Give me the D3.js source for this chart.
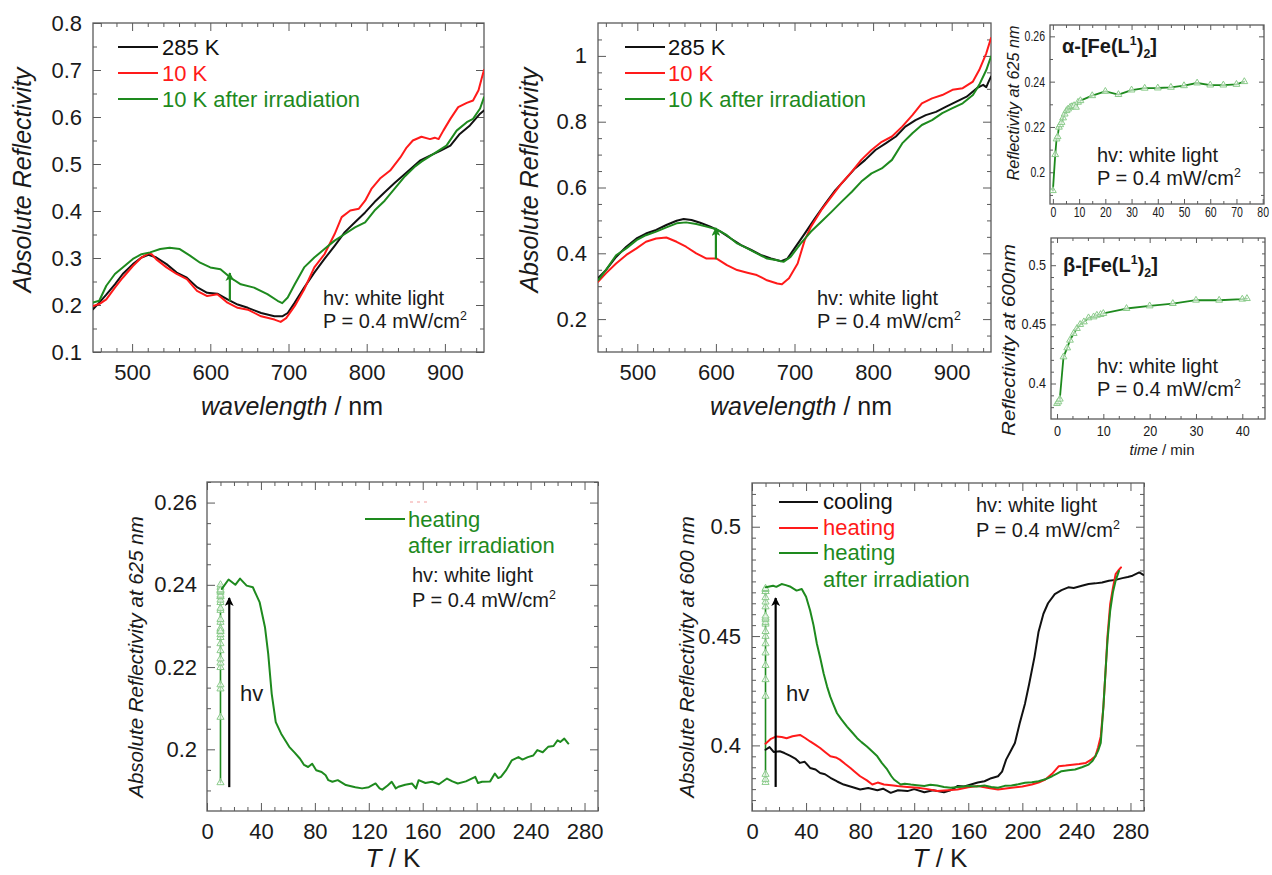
<!DOCTYPE html>
<html><head><meta charset="utf-8">
<script src="https://cdn.jsdelivr.net/npm/d3@7"></script>
<style>
body{margin:0;background:#fff;}
svg text{font-family:"Liberation Sans",Arial,sans-serif;}
</style></head><body>
<script>
// ---------------- DATA ----------------
// Panel A: alpha spectra (wavelength nm, absolute reflectivity)
const a285 = [[450,0.191],[458,0.205],[467,0.222],[478,0.244],[488,0.266],[501,0.287],[512,0.301],[521,0.307],[531,0.301],[544,0.287],[557,0.269],[570,0.258],[583,0.238],[596,0.226],[609,0.224],[622,0.212],[635,0.201],[648,0.194],[665,0.183],[682,0.176],[692,0.176],[699,0.183],[708,0.205],[720,0.237],[733,0.269],[746,0.298],[759,0.326],[772,0.355],[785,0.376],[798,0.397],[810,0.419],[823,0.44],[836,0.46],[851,0.482],[868,0.507],[881,0.518],[894,0.528],[907,0.539],[919,0.564],[932,0.582],[945,0.607],[950,0.614]];
const a10 = [[450,0.198],[458,0.202],[467,0.212],[478,0.237],[488,0.258],[501,0.283],[512,0.301],[521,0.31],[525,0.308],[531,0.297],[544,0.28],[557,0.266],[570,0.255],[583,0.23],[596,0.219],[609,0.223],[622,0.205],[635,0.194],[648,0.19],[665,0.176],[682,0.169],[690,0.164],[697,0.172],[708,0.198],[720,0.233],[733,0.28],[746,0.308],[759,0.351],[768,0.387],[779,0.401],[790,0.405],[798,0.422],[806,0.447],[817,0.469],[830,0.486],[843,0.514],[851,0.535],[859,0.55],[870,0.558],[881,0.553],[887,0.556],[892,0.553],[898,0.571],[907,0.596],[917,0.621],[928,0.63],[936,0.635],[943,0.657],[947,0.682],[950,0.70]];
const a10irr = [[450,0.205],[458,0.209],[467,0.241],[478,0.266],[488,0.28],[501,0.298],[512,0.308],[523,0.312],[536,0.319],[548,0.322],[561,0.319],[574,0.305],[587,0.29],[600,0.28],[613,0.276],[626,0.258],[639,0.244],[656,0.237],[673,0.223],[686,0.209],[692,0.204],[699,0.216],[708,0.244],[720,0.28],[733,0.301],[746,0.319],[759,0.337],[772,0.351],[785,0.365],[798,0.376],[810,0.401],[823,0.422],[836,0.448],[849,0.474],[862,0.495],[870,0.505],[885,0.521],[902,0.539],[915,0.571],[928,0.589],[936,0.596],[945,0.618],[950,0.642]];

// Panel B: beta spectra
const b285 = [[450,0.324],[460,0.349],[473,0.389],[486,0.42],[499,0.445],[511,0.46],[524,0.471],[537,0.486],[550,0.499],[559,0.504],[569,0.501],[580,0.493],[593,0.481],[606,0.466],[619,0.445],[632,0.425],[645,0.41],[657,0.395],[670,0.384],[683,0.376],[691,0.384],[700,0.415],[713,0.46],[726,0.506],[739,0.55],[752,0.592],[764,0.623],[777,0.658],[790,0.684],[803,0.714],[816,0.734],[829,0.755],[841,0.785],[854,0.805],[867,0.82],[880,0.83],[893,0.846],[906,0.861],[919,0.876],[932,0.902],[940,0.912],[944,0.905],[947,0.922],[950,0.937]];
const b10 = [[450,0.313],[460,0.339],[473,0.369],[486,0.395],[499,0.415],[511,0.435],[524,0.445],[537,0.448],[550,0.435],[562,0.42],[575,0.4],[588,0.384],[601,0.384],[614,0.364],[627,0.349],[640,0.341],[652,0.334],[665,0.318],[678,0.308],[684,0.306],[693,0.324],[704,0.369],[713,0.44],[721,0.481],[734,0.531],[747,0.572],[760,0.613],[773,0.648],[785,0.684],[798,0.714],[811,0.739],[824,0.755],[837,0.785],[850,0.82],[862,0.856],[875,0.871],[888,0.881],[901,0.897],[914,0.902],[927,0.922],[935,0.957],[944,1.008],[950,1.054]];
const b10irr = [[450,0.318],[460,0.349],[473,0.394],[486,0.415],[499,0.44],[511,0.455],[524,0.466],[537,0.479],[550,0.491],[562,0.494],[575,0.489],[588,0.481],[601,0.473],[614,0.455],[627,0.43],[640,0.415],[652,0.4],[665,0.384],[678,0.379],[686,0.374],[695,0.389],[708,0.43],[721,0.466],[734,0.496],[747,0.526],[760,0.557],[773,0.587],[785,0.618],[798,0.643],[811,0.658],[824,0.684],[837,0.734],[850,0.765],[862,0.79],[875,0.805],[888,0.826],[901,0.841],[914,0.856],[927,0.881],[935,0.912],[944,0.957],[950,0.998]];

// Panel C: alpha, reflectivity at 625 nm vs irradiation time (min)
const alphaTime = [0,0.9,1.4,1.8,2.3,2.8,3.3,3.9,4.5,5.2,5.8,6.6,7.3,8.1,8.8,9.6,10.5,15,20,25,30,35,40,45,50,55,60,65,70,73];
const alphaRefl = [0.1919,0.2078,0.2147,0.2157,0.2199,0.221,0.222,0.224,0.2257,0.2272,0.2279,0.2287,0.229,0.2294,0.2287,0.2309,0.2316,0.2338,0.2357,0.2343,0.2363,0.2371,0.2372,0.2375,0.2382,0.2394,0.2385,0.2385,0.2388,0.2400];

// Panel D: beta, reflectivity at 600 nm vs irradiation time (min)
const betaTime = [0,0.3,0.6,1.4,2.2,2.8,3.6,4.3,5,5.8,6.8,7.9,8.6,9.4,10,15,20,25,30,35,40,41];
const betaRefl = [0.3831,0.3845,0.3868,0.4225,0.4301,0.4366,0.4423,0.4465,0.4499,0.4521,0.4555,0.4563,0.4577,0.4583,0.4592,0.4634,0.4656,0.4676,0.4704,0.4704,0.4713,0.4718];

// Irradiation temperature (K) for the photo-excitation points
const irrT = 10;

// Panel E: alpha, heating after irradiation (T K, reflectivity at 625 nm)
const eHeatIrr = [[11,0.239],[16,0.2413],[21,0.240],[24.5,0.2415],[29.4,0.2398],[34,0.2394],[39,0.2358],[43,0.2297],[45.4,0.2232],[48,0.2135],[51,0.2066],[55,0.2038],[61,0.2006],[65,0.1992],[69,0.1977],[72,0.1962],[75,0.1957],[78,0.1965],[81,0.1949],[85,0.1945],[88,0.1937],[90,0.1925],[93,0.1921],[97,0.1925],[103,0.1913],[110,0.1908],[115,0.1905],[120,0.1908],[125,0.1917],[128,0.1905],[130,0.1902],[134,0.1912],[137,0.1921],[140,0.1905],[142,0.1909],[147,0.1914],[152,0.1917],[155,0.1905],[157,0.1925],[162,0.1918],[167,0.1921],[172,0.1915],[178,0.1929],[182,0.1922],[186,0.1917],[192,0.1922],[199,0.1933],[201,0.1918],[204,0.1921],[210,0.1922],[213.5,0.1941],[216,0.193],[218,0.1933],[222,0.195],[226,0.1973],[231,0.1981],[234,0.1975],[238,0.1981],[242,0.1985],[245,0.1998],[249,0.1993],[253,0.2006],[257,0.2008],[260,0.2022],[262,0.2018],[265,0.2026],[268,0.2014]];

// Panel F: beta, reflectivity at 600 nm vs T
const fCool = [[10,0.398],[13,0.3992],[16,0.397],[20.6,0.3973],[24,0.3965],[28,0.3953],[32,0.394],[35.5,0.392],[39,0.3925],[43,0.3897],[47,0.389],[50.4,0.3874],[54,0.3868],[58,0.3852],[63,0.3835],[67.8,0.3821],[74,0.381],[80,0.3798],[86,0.3805],[92.7,0.3795],[97,0.3802],[102.6,0.3783],[108,0.3795],[115,0.3791],[120,0.38],[127.5,0.3786],[134,0.3795],[142,0.3786],[147,0.3795],[152,0.3814],[157,0.3812],[162,0.3821],[167,0.383],[172,0.3836],[177,0.385],[182,0.3859],[185,0.388],[188,0.3935],[191,0.397],[194.5,0.4011],[198,0.41],[202,0.4192],[205,0.428],[209,0.4405],[212,0.452],[215.6,0.4602],[219,0.465],[224,0.4692],[229,0.471],[234,0.4723],[238,0.472],[244,0.473],[249,0.4738],[254,0.4741],[259,0.4745],[264,0.4753],[269,0.4757],[274,0.4765],[278,0.477],[281.5,0.4776],[286.5,0.4791],[289.5,0.478]];
const fHeat = [[10,0.4008],[14,0.403],[18,0.4041],[22,0.4038],[25.6,0.4033],[30,0.4042],[35.5,0.4048],[39,0.4035],[43,0.4018],[47,0.4002],[50.4,0.3988],[54,0.397],[58,0.395],[62,0.3945],[65,0.3935],[69,0.3915],[72.8,0.3897],[76,0.388],[80,0.3859],[85,0.384],[89,0.3821],[93,0.383],[97.6,0.3821],[103,0.3818],[107.6,0.3814],[115,0.381],[122.5,0.3806],[130,0.38],[137,0.3791],[145,0.3795],[152,0.3798],[160,0.3808],[167,0.3814],[175,0.3805],[182,0.3798],[192,0.3806],[200,0.3812],[207,0.3821],[212,0.383],[217,0.3844],[222,0.387],[227,0.3905],[232,0.3908],[237,0.3912],[242,0.3915],[247,0.392],[251,0.3935],[254,0.395],[256,0.399],[258,0.4041],[260,0.418],[261.6,0.4344],[263,0.45],[265,0.4647],[267,0.472],[269,0.4783],[271,0.48],[273,0.4814]];
const fHeatIrr = [[10.2,0.4723],[15.6,0.473],[18,0.4725],[21.9,0.4738],[25,0.4733],[28,0.4727],[33,0.4708],[36.8,0.4715],[40,0.468],[43,0.4617],[45.5,0.455],[48,0.4465],[50.5,0.44],[53,0.4329],[55.5,0.427],[57.9,0.4223],[60,0.419],[62.9,0.4147],[66,0.412],[70.3,0.4086],[74,0.406],[77.8,0.4033],[81,0.4015],[85,0.3995],[89,0.3972],[92.7,0.395],[96,0.392],[100,0.389],[103,0.386],[105,0.3844],[110,0.3821],[113,0.3825],[117.5,0.3821],[122,0.3818],[127.5,0.3814],[132,0.382],[137,0.3817],[142,0.381],[147,0.3806],[153,0.381],[160,0.3814],[166,0.3812],[172,0.3817],[177,0.381],[182,0.3806],[187,0.3815],[192,0.3817],[197,0.3822],[202,0.3829],[207,0.3832],[212,0.3836],[217,0.3845],[222,0.3859],[226,0.3872],[229,0.3882],[234,0.3886],[239,0.389],[244,0.39],[249,0.3912],[252,0.393],[254,0.395],[256,0.3975],[258,0.4011],[260,0.418],[261.6,0.4344],[263,0.448],[265,0.4617],[267,0.47],[269,0.4753],[271.5,0.4798]];

// Tick labels
const specXTicks = [500,600,700,800,900];
const aYTicks = [0.1,0.2,0.3,0.4,0.5,0.6,0.7,0.8];
const bYTicks = [0.2,0.4,0.6,0.8,1];
const cXTicks = [0,10,20,30,40,50,60,70,80];
const cYTicks = [0.2,0.22,0.24,0.26];
const dXTicks = [0,10,20,30,40];
const dYTicks = [0.4,0.45,0.5];
const tXTicks = [0,40,80,120,160,200,240,280];
const eYTicks = [0.2,0.22,0.24,0.26];
const fYTicks = [0.4,0.45,0.5];

// ---------------- DRAWING ----------------
const W = 1272, H = 875;
const COL = {k:'#111111', r:'#ff1a1a', g:'#1e8a1e', mk:'#8acb8a', frame:'#5a5a5a', txt:'#1a1a1a'};
const svg = d3.select('body').append('svg').attr('width', W).attr('height', H);
svg.append('rect').attr('width', W).attr('height', H).attr('fill', '#fff');
const defs = svg.append('defs');
defs.append('filter').attr('id','blur').attr('x','-50%').attr('y','-10%').attr('width','200%').attr('height','120%')
  .append('feGaussianBlur').attr('stdDeviation', 1.3);
function mkMarker(id, color){
  defs.append('marker').attr('id', id).attr('viewBox','0 0 10 10').attr('refX',9).attr('refY',5)
    .attr('markerWidth',4).attr('markerHeight',4).attr('orient','auto')
    .append('path').attr('d','M0,0L10,5L0,10L2.5,5z').attr('fill', color);
}
mkMarker('ahG', COL.g); mkMarker('ahK', '#000');

const fmt = d => String(+d.toFixed(3));
function minors(a, b, step, majors){
  return d3.range(a, b + step/2, step).map(v => +v.toFixed(5))
    .filter(v => !majors.some(m => Math.abs(m - v) < 1e-6));
}
function squeeze(sel, k){
  sel.each(function(){
    const L = this.getComputedTextLength();
    if (L > 0) d3.select(this).attr('textLength', L * k).attr('lengthAdjust', 'spacingAndGlyphs');
  });
}
let clipN = 0;
function panel(o){
  const w = o.x1 - o.x0, h = o.y1 - o.y0;
  const g = svg.append('g').attr('transform', `translate(${o.x0},${o.y0})`);
  const x = d3.scaleLinear().domain(o.xd).range([0, w]);
  const y = d3.scaleLinear().domain(o.yd).range([h, 0]);
  const id = 'clip' + (clipN++);
  defs.append('clipPath').attr('id', id).append('rect').attr('width', w).attr('height', h);
  const sty = sel => {
    sel.select('.domain').remove();
    sel.selectAll('line').attr('stroke', COL.frame).attr('stroke-width', 1);
    const t = sel.selectAll('text').attr('fill', COL.txt).style('font-size', o.fs + 'px');
    if (o.sq) squeeze(t, o.sq);
  };
  const bot = g.append('g').attr('transform', `translate(0,${h})`);
  bot.append('g').call(d3.axisBottom(x).tickValues(o.xMaj).tickSize(-o.ml).tickPadding(o.xp).tickFormat(fmt)).call(sty);
  bot.append('g').call(d3.axisBottom(x).tickValues(o.xMin).tickSize(-o.nl).tickFormat('')).call(sty);
  g.append('g').call(d3.axisTop(x).tickValues(o.xMaj).tickSize(-o.ml).tickFormat('')).call(sty);
  g.append('g').call(d3.axisTop(x).tickValues(o.xMin).tickSize(-o.nl).tickFormat('')).call(sty);
  g.append('g').call(d3.axisLeft(y).tickValues(o.yMaj).tickSize(-o.ml).tickPadding(o.yp).tickFormat(fmt)).call(sty);
  g.append('g').call(d3.axisLeft(y).tickValues(o.yMin).tickSize(-o.nl).tickFormat('')).call(sty);
  const rt = g.append('g').attr('transform', `translate(${w},0)`);
  rt.append('g').call(d3.axisRight(y).tickValues(o.yMaj).tickSize(-o.ml).tickFormat('')).call(sty);
  rt.append('g').call(d3.axisRight(y).tickValues(o.yMin).tickSize(-o.nl).tickFormat('')).call(sty);
  g.append('rect').attr('width', w).attr('height', h).attr('fill', 'none')
    .attr('stroke', COL.frame).attr('stroke-width', 1.3);
  const plot = g.append('g').attr('clip-path', `url(#${id})`);
  return {g, plot, x, y, w, h};
}
function curve(p, data, color, width){
  p.plot.append('path').datum(data)
    .attr('d', d3.line().x(d => p.x(d[0])).y(d => p.y(d[1])))
    .attr('fill', 'none').attr('stroke', color).attr('stroke-width', width || 2)
    .attr('stroke-linejoin', 'round').attr('stroke-linecap', 'round');
}
function markers(p, data, size){
  p.plot.append('g').selectAll('path').data(data).join('path')
    .attr('transform', d => `translate(${p.x(d[0])},${p.y(d[1])})`)
    .attr('d', d3.symbol(d3.symbolTriangle, size || 22))
    .attr('fill', 'rgba(255,255,255,0.6)').attr('stroke', COL.mk).attr('stroke-width', 1);
}
function arrow(p, xv, ya, yb, color, mid, width){
  const X = p.x(xv), Y0 = p.y(ya), Y1 = p.y(yb);
  p.g.append('line').attr('x1', X + 3).attr('x2', X + 3).attr('y1', Y0 + 2).attr('y2', Y1 + 4)
    .attr('stroke', '#888').attr('stroke-opacity', 0.55).attr('stroke-width', width + 1.5).attr('filter', 'url(#blur)');
  p.g.append('line').attr('x1', X).attr('x2', X).attr('y1', Y0).attr('y2', Y1)
    .attr('stroke', color).attr('stroke-width', width).attr('marker-end', `url(#${mid})`);
}
function rich(x, y, parts, o){
  o = o || {};
  const fs = o.fs || 20;
  const t = svg.append('text').attr('x', x).attr('y', y).style('font-size', fs + 'px')
    .attr('fill', o.fill || COL.txt).attr('text-anchor', o.anchor || 'start');
  if (o.rot) t.attr('transform', `rotate(-90,${x},${y})`);
  if (o.bold) t.style('font-weight', 'bold');
  if (o.len) t.attr('textLength', o.len).attr('lengthAdjust', 'spacingAndGlyphs');
  let pend = 0;
  parts.forEach(p => {
    if (typeof p === 'string') p = {t: p};
    const s = t.append('tspan').text(p.t);
    let dy = pend; pend = 0;
    if (p.i) s.style('font-style', 'italic');
    if (p.sup) { s.style('font-size', (fs * 0.62) + 'px'); dy += -fs * 0.42; pend = fs * 0.42; }
    if (p.sub) { s.style('font-size', (fs * 0.62) + 'px'); dy += fs * 0.25; pend = -fs * 0.25; }
    if (dy) s.attr('dy', dy);
  });
  return t;
}
const powerParts = ['P = 0.4 mW/cm', {t:'2', sup:1}];

// ---- Panel A ----
const A = panel({x0:93, y0:23, x1:484, y1:352, xd:[450,950], yd:[0.1,0.8],
  xMaj:specXTicks, xMin:minors(460,940,20,specXTicks), yMaj:aYTicks, yMin:minors(0.15,0.75,0.1,aYTicks),
  fs:22, ml:8, nl:4, xp:12, yp:11});
curve(A, a285, COL.k); curve(A, a10, COL.r); curve(A, a10irr, COL.g);
arrow(A, 625, 0.208, 0.268, COL.g, 'ahG', 2.2);
[[COL.k,'285 K'],[COL.r,'10 K'],[COL.g,'10 K after irradiation']].forEach((d,i) => {
  svg.append('line').attr('x1',118).attr('x2',158).attr('y1',47+26*i).attr('y2',47+26*i).attr('stroke',d[0]).attr('stroke-width',2);
  rich(162, 55+26*i, [d[1]], {fs:22, fill:d[0]});
});
rich(323, 305, ['hv: white light'], {fs:20});
rich(323, 328, powerParts, {fs:20});
rich(31, 180, [{t:'Absolute Reflectivity', i:1}], {fs:25, anchor:'middle', rot:1});
rich(292, 415, [{t:'wavelength', i:1}, ' / nm'], {fs:25, anchor:'middle'});

// ---- Panel B ----
const B = panel({x0:598, y0:23, x1:991, y1:352, xd:[450,950], yd:[0.1,1.1],
  xMaj:specXTicks, xMin:minors(460,940,20,specXTicks), yMaj:bYTicks, yMin:minors(0.15,1.05,0.05,bYTicks),
  fs:22, ml:8, nl:4, xp:12, yp:11});
curve(B, b285, COL.k); curve(B, b10, COL.r); curve(B, b10irr, COL.g);
arrow(B, 600, 0.382, 0.477, COL.g, 'ahG', 2.2);
[[COL.k,'285 K'],[COL.r,'10 K'],[COL.g,'10 K after irradiation']].forEach((d,i) => {
  svg.append('line').attr('x1',625).attr('x2',665).attr('y1',47+26*i).attr('y2',47+26*i).attr('stroke',d[0]).attr('stroke-width',2);
  rich(668, 55+26*i, [d[1]], {fs:22, fill:d[0]});
});
rich(817, 305, ['hv: white light'], {fs:20});
rich(817, 328, powerParts, {fs:20});
rich(538, 180, [{t:'Absolute Reflectivity', i:1}], {fs:25, anchor:'middle', rot:1});
rich(801, 415, [{t:'wavelength', i:1}, ' / nm'], {fs:25, anchor:'middle'});

// ---- Panel C ----
const alphaPts = alphaTime.map((t,i) => [t, alphaRefl[i]]);
const Cp = panel({x0:1050, y0:25, x1:1264, y1:204, xd:[-1.1,80.5], yd:[0.186,0.265],
  xMaj:cXTicks, xMin:minors(5,75,10,cXTicks), yMaj:cYTicks, yMin:minors(0.19,0.25,0.01,cYTicks),
  fs:14, sq:0.75, ml:5, nl:3, xp:3, yp:5});
curve(Cp, alphaPts, COL.g, 1.8); markers(Cp, alphaPts, 20);
rich(1062, 53, ['α-[Fe(L', {t:'1', sup:1}, ')', {t:'2', sub:1}, ']'], {fs:20, bold:1});
rich(1097, 162, ['hv: white light'], {fs:20});
rich(1097, 185, powerParts, {fs:20});
rich(1019, 103, [{t:'Reflectivity at 625 nm', i:1}], {fs:17, anchor:'middle', rot:1, len:155});

// ---- Panel D ----
const betaPts = betaTime.map((t,i) => [t, betaRefl[i]]);
const Dp = panel({x0:1051, y0:238, x1:1265, y1:419, xd:[-1.3,44.9], yd:[0.37,0.523],
  xMaj:dXTicks, xMin:minors(10/3,130/3,10/3,dXTicks), yMaj:dYTicks, yMin:minors(0.38,0.52,0.01,dYTicks),
  fs:14, sq:0.9, ml:5, nl:3, xp:7, yp:5});
curve(Dp, betaPts, COL.g, 1.8); markers(Dp, betaPts, 20);
rich(1063, 272, ['β-[Fe(L', {t:'1', sup:1}, ')', {t:'2', sub:1}, ']'], {fs:20, bold:1});
rich(1097, 373, ['hv: white light'], {fs:20});
rich(1097, 396, powerParts, {fs:20});
rich(1015, 340, [{t:'Reflectivity at 600nm', i:1}], {fs:18, anchor:'middle', rot:1, len:192});
rich(1162, 455, [{t:'time', i:1}, ' / min'], {fs:15, anchor:'middle'});

// ---- Panel E ----
const Ep = panel({x0:207, y0:482, x1:598, y1:811, xd:[0,290], yd:[0.185,0.265],
  xMaj:tXTicks, xMin:minors(10,290,10,tXTicks), yMaj:eYTicks, yMin:minors(0.19,0.265,0.005,eYTicks),
  fs:22, ml:8, nl:4, xp:12, yp:10});
const ePhoto = alphaRefl.map(v => [irrT, v]);
curve(Ep, ePhoto, COL.g, 1.6); markers(Ep, ePhoto, 22);
curve(Ep, eHeatIrr, COL.g, 2);
arrow(Ep, 16.5, 0.1908, 0.2368, '#000', 'ahK', 2.2);
rich(240, 701, ['hv'], {fs:22});
svg.append('line').attr('x1',410).attr('x2',428).attr('y1',502).attr('y2',502)
  .attr('stroke','#f08080').attr('stroke-opacity',0.5).attr('stroke-width',1.5).attr('stroke-dasharray','3,4');
svg.append('line').attr('x1',365).attr('x2',405).attr('y1',519).attr('y2',519).attr('stroke',COL.g).attr('stroke-width',2);
rich(408, 527, ['heating'], {fs:22, fill:COL.g});
rich(408, 553, ['after irradiation'], {fs:22, fill:COL.g});
rich(412, 582, ['hv: white light'], {fs:20});
rich(412, 607, powerParts, {fs:20});
rich(143, 657, [{t:'Absolute Reflectivity at 625 nm', i:1}], {fs:20.5, anchor:'middle', rot:1});
rich(393, 867, [{t:'T', i:1}, ' / K'], {fs:26, anchor:'middle'});

// ---- Panel F ----
const Fp = panel({x0:752, y0:483, x1:1144, y1:811, xd:[0,290], yd:[0.37,0.52],
  xMaj:tXTicks, xMin:minors(10,290,10,tXTicks), yMaj:fYTicks, yMin:minors(0.375,0.515,0.005,fYTicks),
  fs:22, ml:8, nl:4, xp:12, yp:11});
const fPhoto = betaRefl.map(v => [irrT, v]);
curve(Fp, fPhoto, COL.g, 1.6); markers(Fp, fPhoto, 22);
curve(Fp, fCool, COL.k, 2); curve(Fp, fHeat, COL.r, 2); curve(Fp, fHeatIrr, COL.g, 2);
arrow(Fp, 17.5, 0.381, 0.4674, '#000', 'ahK', 2.2);
rich(786, 701, ['hv'], {fs:22});
[[COL.k,'cooling',502],[COL.r,'heating',528],[COL.g,'heating',553]].forEach(d => {
  svg.append('line').attr('x1',779).attr('x2',818).attr('y1',d[2]).attr('y2',d[2]).attr('stroke',d[0]).attr('stroke-width',2);
  rich(823, d[2] + 7, [d[1]], {fs:22, fill:d[0]});
});
rich(823, 587, ['after irradiation'], {fs:22, fill:COL.g});
rich(976, 512, ['hv: white light'], {fs:20});
rich(976, 537, powerParts, {fs:20});
rich(694, 657, [{t:'Absolute Reflectivity at 600 nm', i:1}], {fs:20.5, anchor:'middle', rot:1});
rich(940, 867, [{t:'T', i:1}, ' / K'], {fs:26, anchor:'middle'});
</script>
</body></html>
